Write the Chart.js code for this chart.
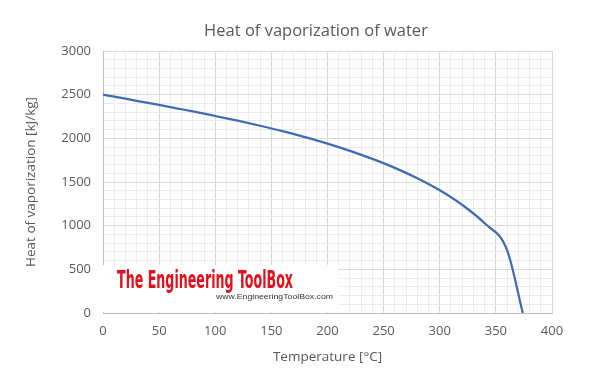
<!DOCTYPE html>
<html>
<head>
<meta charset="utf-8">
<script src="https://cdn.jsdelivr.net/npm/chart.js@4"></script>
<style>
  html, body { margin: 0; padding: 0; background: #fff; }
  #wrap { width: 607px; height: 382px; }
</style>
</head>
<body>
<div id="wrap"><canvas id="chart" width="607" height="382"></canvas></div>
<script>
// temperature [°C] and heat of vaporization [kJ/kg]
const temperatures = [0, 10, 20, 30, 40, 50, 60, 70, 80, 90, 100, 120, 140, 160, 180, 200, 220, 240, 260, 280, 300, 320, 340, 360, 374];
const heatValues = [2501, 2477, 2454, 2430, 2406, 2382, 2358, 2333, 2308, 2283, 2256, 2202, 2144, 2082, 2014, 1940, 1857, 1765, 1662, 1543, 1405, 1238, 1027, 720, 0];

const xMajor = 50;   // labelled x ticks
const yMajor = 500;  // labelled y ticks

const titleText = "Heat of vaporization of water";
const xTitle = "Temperature [°C]";
const yTitle = "Heat of vaporization [kJ/kg]";
const logoText = "The Engineering ToolBox";
const logoUrl = "www.EngineeringToolBox.com";

const textColor = "#595959";
const fontFamily = "'Open Sans', 'Liberation Sans', sans-serif";

const points = temperatures.map((t, i) => ({x: t, y: heatValues[i]}));

function gridColor(ctx, major) {
    const v = ctx.tick ? ctx.tick.value : 0;
    return v % major === 0 ? "#d9d9d9" : "#ececec";
}

// title and the watermark box are drawn by hand, the rest by Chart.js
const decorations = {
    id: "decorations",
    afterDraw(chart) {
        const ctx = chart.ctx;
        const xs = chart.scales.x;
        const ys = chart.scales.y;
        ctx.save();

        ctx.fillStyle = textColor;
        ctx.font = "16.5px " + fontFamily;
        ctx.textAlign = "center";
        ctx.textBaseline = "middle";
        ctx.fillText(titleText, 316, 31);

        // logo box over the lower left of the plot
        const left = xs.left;
        const right = xs.getPixelForValue(210);
        const top = ys.getPixelForValue(550);
        const bottom = ys.bottom;
        ctx.fillStyle = "#ffffff";
        ctx.fillRect(left, top, right - left, bottom - top - 1);

        ctx.fillStyle = "#e3101c";
        ctx.font = "bold 25px 'Liberation Sans Narrow', 'DejaVu Sans Condensed', sans-serif";
        ctx.textAlign = "left";
        ctx.textBaseline = "alphabetic";
        const w = ctx.measureText(logoText).width;
        ctx.save();
        ctx.translate(117, 288);
        ctx.scale(176 / w, 1);
        ctx.fillText(logoText, 0, 0);
        ctx.restore();

        ctx.fillStyle = "#333333";
        ctx.font = "8px 'Liberation Sans', sans-serif";
        const w2 = ctx.measureText(logoUrl).width;
        ctx.save();
        ctx.translate(216, 299);
        ctx.scale(117 / w2, 1);
        ctx.fillText(logoUrl, 0, 0);
        ctx.restore();

        ctx.restore();
    }
};

new Chart(document.getElementById("chart"), {
    type: "scatter",
    data: {
        datasets: [{
            data: points,
            showLine: true,
            borderColor: "#3f6db3",
            borderWidth: 2.25,
            pointRadius: 0,
            cubicInterpolationMode: "monotone",
            fill: false
        }]
    },
    options: {
        responsive: false,
        animation: false,
        layout: {padding: {top: 51, right: 55, left: 0, bottom: 0}},
        plugins: {
            legend: {display: false},
            tooltip: {enabled: false}
        },
        scales: {
            x: {
                type: "linear",
                min: 0,
                max: 400,
                afterFit(scale) { scale.height = 69; },
                ticks: {
                    stepSize: 10,
                    autoSkip: false,
                    maxRotation: 0,
                    padding: 10,
                    color: textColor,
                    font: {size: 13, family: fontFamily},
                    callback: v => (v % xMajor === 0 ? String(v) : "")
                },
                grid: {
                    drawTicks: false,
                    color: c => gridColor(c, xMajor)
                },
                border: {color: "#bfbfbf"},
                title: {
                    display: true,
                    text: xTitle,
                    color: textColor,
                    font: {size: 13.5, family: fontFamily},
                    padding: {top: 0, bottom: 17}
                }
            },
            y: {
                min: 0,
                max: 3000,
                afterFit(scale) { scale.width = 103; },
                ticks: {
                    stepSize: 100,
                    autoSkip: false,
                    padding: 12,
                    color: textColor,
                    font: {size: 13, family: fontFamily},
                    callback: v => (v % yMajor === 0 ? String(v) : "")
                },
                grid: {
                    drawTicks: false,
                    color: c => gridColor(c, yMajor)
                },
                border: {color: "#bfbfbf"},
                title: {
                    display: true,
                    text: yTitle,
                    color: textColor,
                    font: {size: 13.5, family: fontFamily},
                    padding: {top: 23, bottom: 0}
                }
            }
        }
    },
    plugins: [decorations]
});
</script>
</body>
</html>
